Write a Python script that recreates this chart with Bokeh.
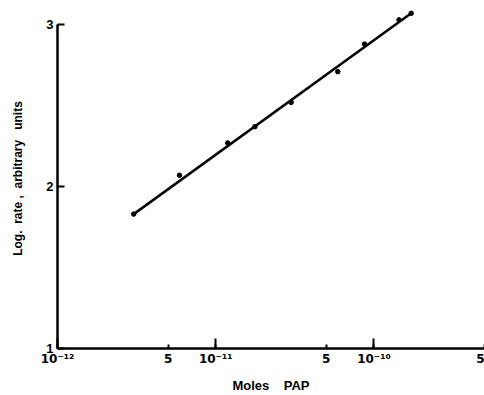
from bokeh.plotting import figure
from bokeh.models import FixedTicker, Range1d
from bokeh.embed import file_html
from bokeh.resources import INLINE

# data
moles_pap = [3.03e-12, 5.9e-12, 1.19e-11, 1.77e-11, 3.0e-11, 5.91e-11, 8.73e-11, 1.44e-10, 1.72e-10]
log_rate = [1.83, 2.07, 2.27, 2.37, 2.52, 2.71, 2.88, 3.03, 3.07]
fit_moles = [3.03e-12, 1.72e-10]
fit_log_rate = [1.83, 3.07]

x_ticks = [1e-12, 5e-12, 1e-11, 5e-11, 1e-10, 5e-10]
x_tick_labels = ["10\u207b\u00b9\u00b2", "5", "10\u207b\u00b9\u00b9", "5", "10\u207b\u00b9\u2070", "5"]
x_decades = [1e-12, 1e-11, 1e-10]
y_ticks = [1, 2, 3]
y_tick_labels = ["1", "2", "3"]

FONT = "Liberation Sans"

p = figure(width=484, height=395, x_axis_type="log",
           x_range=Range1d(1e-12, 5e-10), y_range=Range1d(1, 3.1),
           output_backend="svg", toolbar_location=None,
           min_border_left=57, min_border_right=0, min_border_top=8, min_border_bottom=47)
p.outline_line_color = None
p.grid.visible = False
p.background_fill_color = "white"
p.border_fill_color = "white"

p.line(fit_moles, fit_log_rate, line_width=2.5, line_color="black")
p.scatter(moles_pap, log_rate, size=4.5, color="black")

xa = p.xaxis[0]
xa.ticker = FixedTicker(ticks=x_ticks, minor_ticks=x_decades)
xa.major_label_overrides = {t: l for t, l in zip(x_ticks, x_tick_labels)}
xa.major_tick_in = 4
xa.major_tick_out = 0
xa.minor_tick_in = 10
xa.minor_tick_out = 0
xa.axis_line_width = 2.5
xa.major_tick_line_width = 2
xa.minor_tick_line_width = 2
xa.major_label_standoff = 3
xa.axis_label = "Moles\u00a0\u00a0\u00a0\u00a0PAP"
xa.axis_label_standoff = 9

ya = p.yaxis[0]
ya.ticker = FixedTicker(ticks=y_ticks, minor_ticks=[])
ya.major_label_overrides = {t: l for t, l in zip(y_ticks, y_tick_labels)}
ya.bounds = (1, 3)
ya.major_tick_in = 7
ya.major_tick_out = 0
ya.axis_line_width = 2.5
ya.major_tick_line_width = 2
ya.major_label_standoff = 4
ya.axis_label = "Log.\u00a0\u00a0rate\u00a0,\u00a0\u00a0arbitrary\u00a0\u00a0\u00a0units"
ya.axis_label_standoff = 18

for ax in (xa, ya):
    ax.axis_line_color = "black"
    ax.major_tick_line_color = "black"
    ax.minor_tick_line_color = "black"
    ax.major_label_text_font = FONT
    ax.major_label_text_font_style = "bold"
    ax.major_label_text_font_size = "13px"
    ax.major_label_text_color = "black"
    ax.axis_label_text_font = FONT
    ax.axis_label_text_font_style = "bold"
    ax.axis_label_text_font_size = "13px"
    ax.axis_label_text_color = "black"

xa.major_label_text_font = "DejaVu Sans"
xa.major_label_text_font_size = "12px"
ya.axis_label_text_font_size = "12px"

open("out.html", "w").write(file_html(p, INLINE))
